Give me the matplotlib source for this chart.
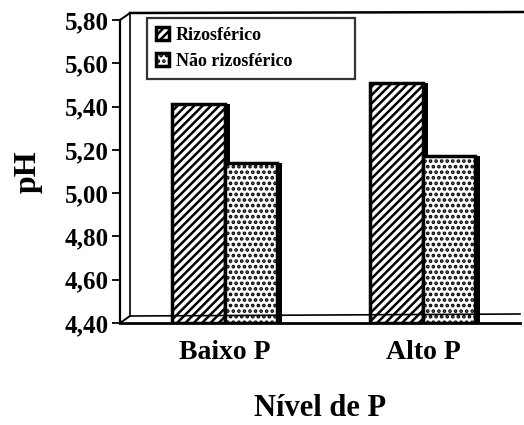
import matplotlib
matplotlib.use("Agg")
import matplotlib.pyplot as plt
from matplotlib.lines import Line2D
import numpy as np

categories = ["Baixo P", "Alto P"]
series_names = ["Rizosférico", "Não rizosférico"]
rizo = [5.41, 5.51]
nao_rizo = [5.14, 5.17]
yticks = [4.40, 4.60, 4.80, 5.00, 5.20, 5.40, 5.60, 5.80]
ytick_labels = ["4,40", "4,60", "4,80", "5,00", "5,20", "5,40", "5,60", "5,80"]

plt.rcParams['font.family'] = ['Liberation Serif', 'DejaVu Serif']
plt.rcParams['font.weight'] = 'bold'
plt.rcParams['hatch.linewidth'] = 1.8

W, H = 524, 425
fig = plt.figure(figsize=(W/100, H/100), dpi=100)
L, R, T, B = 120, 520, 20, 323
ax = fig.add_axes([L/W, 1-B/H, (R-L)/W, (B-T)/H])

x = np.arange(len(categories))
w = 0.265
base = 4.40
# shadow (3D side)
ax.bar(x - w/2 + 0.025, np.array(rizo) - base, w, bottom=base, color='black', zorder=2)
ax.bar(x + w/2 + 0.025, np.array(nao_rizo) - base, w, bottom=base, color='black', zorder=2)
ax.bar(x - w/2, np.array(rizo) - base, w, bottom=base, color='white',
       edgecolor='black', hatch='////', linewidth=2.5, label=series_names[0], zorder=3)
ax.bar(x + w/2, np.array(nao_rizo) - base, w, bottom=base, color='white',
       edgecolor='black', hatch='...', linewidth=2.5, label=series_names[1], zorder=3)

ax.set_ylim(4.40, 5.80)
ax.set_xlim(-0.53, 1.49)
ax.set_yticks(yticks)
ax.set_yticklabels(ytick_labels, fontsize=18, fontweight='bold')
ax.set_xticks(x)
ax.set_xticklabels(categories, fontsize=20, fontweight='bold')
ax.tick_params(axis='x', length=0, pad=12)
ax.tick_params(axis='y', length=6, width=1.3, direction='out', pad=2)
ax.set_ylabel("pH", fontsize=23, fontweight='bold', labelpad=16)
ax.set_xlabel("Nível de P", fontsize=22, fontweight='bold', labelpad=21)

ax.spines['left'].set_linewidth(1.6)
ax.spines['bottom'].set_linewidth(2.0)
ax.spines['right'].set_visible(False)
ax.spines['top'].set_visible(False)

def fl(x0, y0, x1, y1, lw=1.4):
    fig.add_artist(Line2D([x0/W, x1/W], [1-y0/H, 1-y1/H], color='black', lw=lw))

# 3D frame: back wall and floor
fl(120, 20, 130, 13)
fl(130, 13, 524, 12, lw=1.8)
fl(130, 13, 130, 316, lw=1.2)
fl(120, 323, 130, 316)
fl(130, 316, 520, 314, lw=1.2)

leg = ax.legend(loc='upper left', bbox_to_anchor=(147/W, 1-85/H, (355-147)/W, 67/H),
                bbox_transform=fig.transFigure, mode='expand', borderaxespad=0,
                frameon=True, fancybox=False, edgecolor='black',
                handlelength=0.7, handleheight=0.7, handletextpad=0.4,
                borderpad=0.5, labelspacing=0.5,
                prop={'weight': 'bold', 'size': 13})
leg.get_frame().set_linewidth(1.6)
leg.set_zorder(5)

fig.savefig("out.png", dpi=100)
